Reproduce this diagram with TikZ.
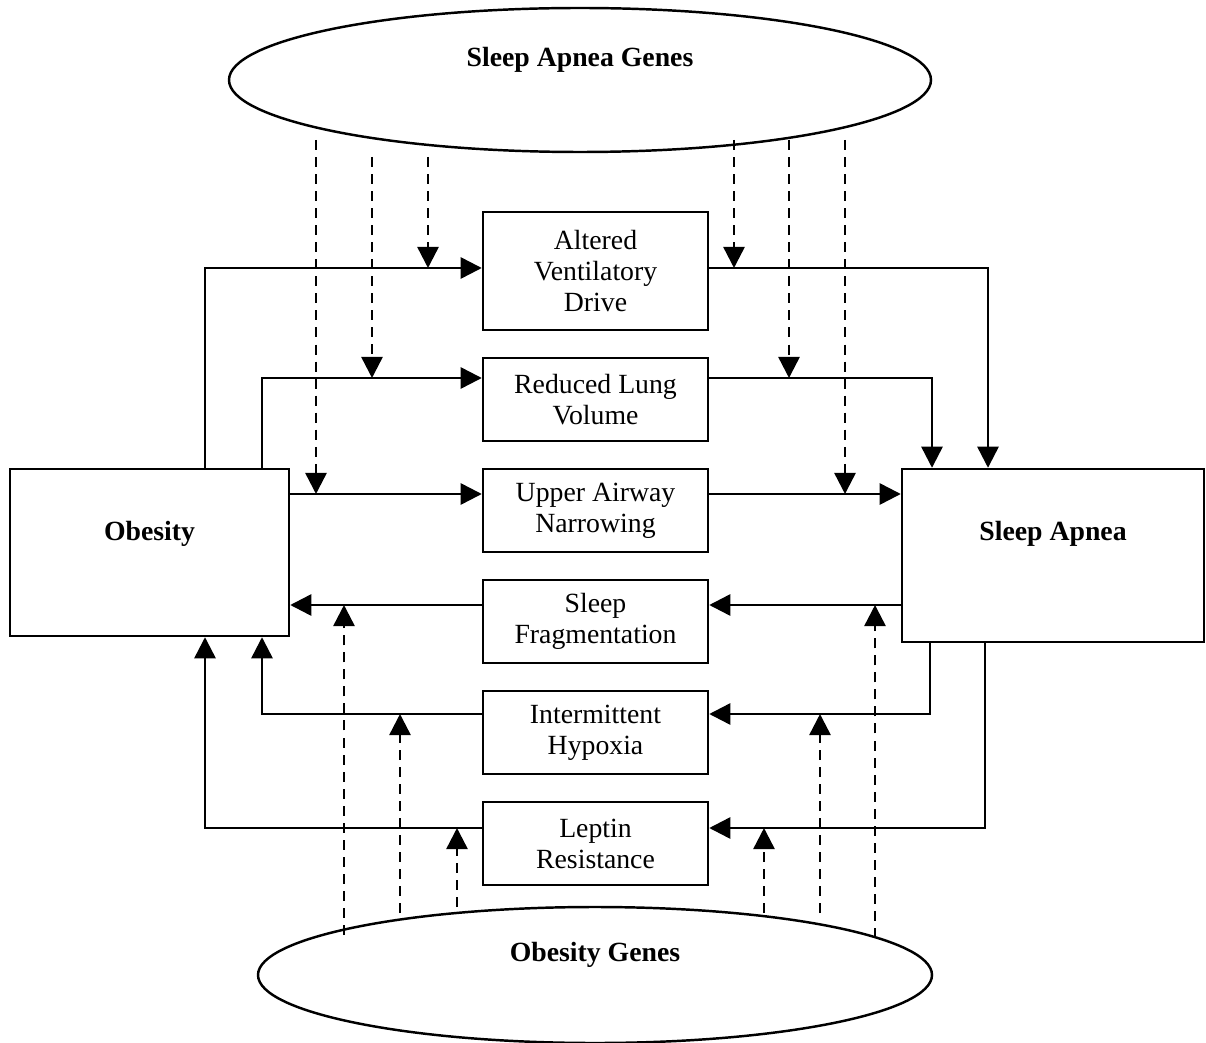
\documentclass[tikz,border=0pt]{standalone}
\usepackage{fontspec}
\setmainfont{Liberation Serif}
\usetikzlibrary{arrows.meta}
\usetikzlibrary{shapes.geometric}

\tikzset{
  box/.style={draw, line width=1.4pt, align=center, inner sep=0pt,
    minimum width=225*0.02cm, minimum height=83*0.02cm},
  bigbox/.style={draw, line width=1.4pt, inner sep=0pt},
  genes/.style={draw, ellipse, line width=1.4pt, inner sep=0pt},
  arr/.style={line width=1.4pt, -{Triangle[length=12pt,width=12pt]}},
  gene/.style={arr, dash pattern=on 5.7pt off 4pt}
}

\begin{document}
\begin{tikzpicture}[x=0.02cm, y=-0.02cm, font=\fontsize{15.8}{17.6}\selectfont]
\useasboundingbox (0,0) rectangle (1206,1043);

% gene ellipses
\node[genes, minimum width=702*0.02cm, minimum height=144*0.02cm,
  label={[font=\fontsize{15.8}{17.6}\selectfont\bfseries, yshift=20*0.02cm]center:Sleep Apnea Genes}] (sag) at (580,80) {};
\node[genes, minimum width=674*0.02cm, minimum height=136*0.02cm,
  label={[font=\fontsize{15.8}{17.6}\selectfont\bfseries, yshift=20*0.02cm]center:Obesity Genes}] (og) at (595,975) {};

% main boxes
\node[bigbox, minimum width=279*0.02cm, minimum height=167*0.02cm,
  label={[font=\fontsize{15.8}{17.6}\selectfont\bfseries, yshift=19*0.02cm]center:Obesity}] (obes) at (149.5,552.5) {};
\node[bigbox, minimum width=302*0.02cm, minimum height=173*0.02cm,
  label={[font=\fontsize{15.8}{17.6}\selectfont\bfseries, yshift=22*0.02cm]center:Sleep Apnea}] (sa) at (1053,555.5) {};

% mechanisms
\node[box, minimum height=118*0.02cm] (avd) at (595.5,271) {Altered\\Ventilatory\\Drive};
\node[box] (rlv) at (595.5,399.5) {Reduced Lung\\Volume};
\node[box] (uan) at (595.5,510.5) {Upper Airway\\Narrowing};
\node[box] (sfr) at (595.5,621.5) {Sleep\\Fragmentation};
\node[box] (ihy) at (595.5,732.5) {Intermittent\\Hypoxia};
\node[box] (lre) at (595.5,843.5) {Leptin\\Resistance};

% rows and columns of the connectors
\coordinate (l1) at (0,268);
\coordinate (l2) at (0,378);
\coordinate (l3) at (0,494);
\coordinate (l4) at (0,605);
\coordinate (l5) at (0,714);
\coordinate (l6) at (0,828);
\coordinate (v1) at (205,0);
\coordinate (v2) at (262,0);
\coordinate (v3) at (988,0);
\coordinate (v4) at (932,0);
\coordinate (v5) at (930,0);
\coordinate (v6) at (985,0);

% obesity -> sleep apnea
\draw[arr] (obes.north -| v1) |- (avd.west |- l1);
\draw[arr] (obes.north -| v2) |- (rlv.west |- l2);
\draw[arr] (obes.east |- l3) -- (uan.west |- l3);
\draw[arr] (avd.east |- l1) -| (sa.north -| v3);
\draw[arr] (rlv.east |- l2) -| (sa.north -| v4);
\draw[arr] (uan.east |- l3) -- (sa.west |- l3);

% sleep apnea -> obesity
\draw[arr] (sa.west |- l4) -- (sfr.east |- l4);
\draw[arr] (sfr.west |- l4) -- (obes.east |- l4);
\draw[arr] (sa.south -| v5) |- (ihy.east |- l5);
\draw[arr] (ihy.west |- l5) -| (obes.south -| v2);
\draw[arr] (sa.south -| v6) |- (lre.east |- l6);
\draw[arr] (lre.west |- l6) -| (obes.south -| v1);

% sleep apnea genes
\draw[gene] (316,140) coordinate (t1) -- (t1 |- l3);
\draw[gene] (372,157) coordinate (t2) -- (t2 |- l2);
\draw[gene] (428,157) coordinate (t3) -- (t3 |- l1);
\draw[gene] (734,140) coordinate (t4) -- (t4 |- l1);
\draw[gene] (789,140) coordinate (t5) -- (t5 |- l2);
\draw[gene] (845,140) coordinate (t6) -- (t6 |- l3);

% obesity genes
\draw[gene] (344,935) coordinate (b1) -- (b1 |- l4);
\draw[gene] (400,913) coordinate (b2) -- (b2 |- l5);
\draw[gene] (457,907) coordinate (b3) -- (b3 |- l6);
\draw[gene] (764,913) coordinate (b4) -- (b4 |- l6);
\draw[gene] (820,913) coordinate (b5) -- (b5 |- l5);
\draw[gene] (875,938) coordinate (b6) -- (b6 |- l4);

\end{tikzpicture}
\end{document}
